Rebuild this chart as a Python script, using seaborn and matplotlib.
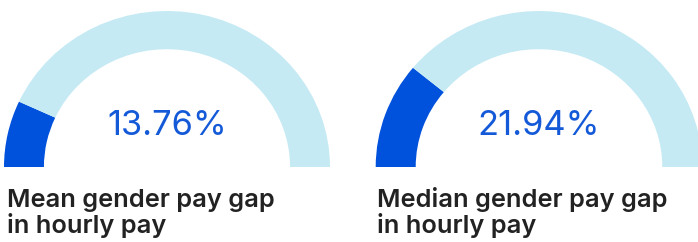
import matplotlib
matplotlib.use('Agg')
from matplotlib import pyplot as plt
import seaborn as sns

labels = ['Mean gender pay gap\nin hourly pay', 'Median gender pay gap\nin hourly pay']
gaps = [13.76, 21.94]
value_texts = ['13.76%', '21.94%']

dark = '#0052DC'
light = '#C5EAF4'
text_blue = '#145AD8'

sns.set_theme(style='white')
plt.rcParams['font.family'] = ['Inter', 'DejaVu Sans']

W, H = 698, 242
fig = plt.figure(figsize=(W / 100, H / 100), dpi=100)

# gauge boxes in pixels: left, top, width, height
boxes = [(4, 11, 326, 156), (375.7, 11, 326.6, 156)]
label_x = [7, 377]

for gap, txt, lab, box, lx in zip(gaps, value_texts, labels, boxes, label_x):
    l, t, w, h = box
    ax = fig.add_axes([l / W, (H - t - h) / H, w / W, h / H])
    ax.pie([gap, 100 - gap, 100], colors=[dark, light, 'none'],
           startangle=180, counterclock=False, radius=1,
           wedgeprops=dict(width=0.245, linewidth=0))
    ax.set_aspect('auto')
    ax.set_xlim(-1, 1)
    ax.set_ylim(0, 1)
    ax.axis('off')
    ax.text(0, 0.205, txt, ha='center', va='baseline', fontsize=24.8,
            color=text_blue)
    # baseline of the last line
    fig.text(lx / W, (H - 232.5) / H, lab, ha='left', va='baseline',
             fontsize=18.3, fontweight='semibold', color='#222222',
             linespacing=1.04)

fig.savefig('out.png', dpi=100)
